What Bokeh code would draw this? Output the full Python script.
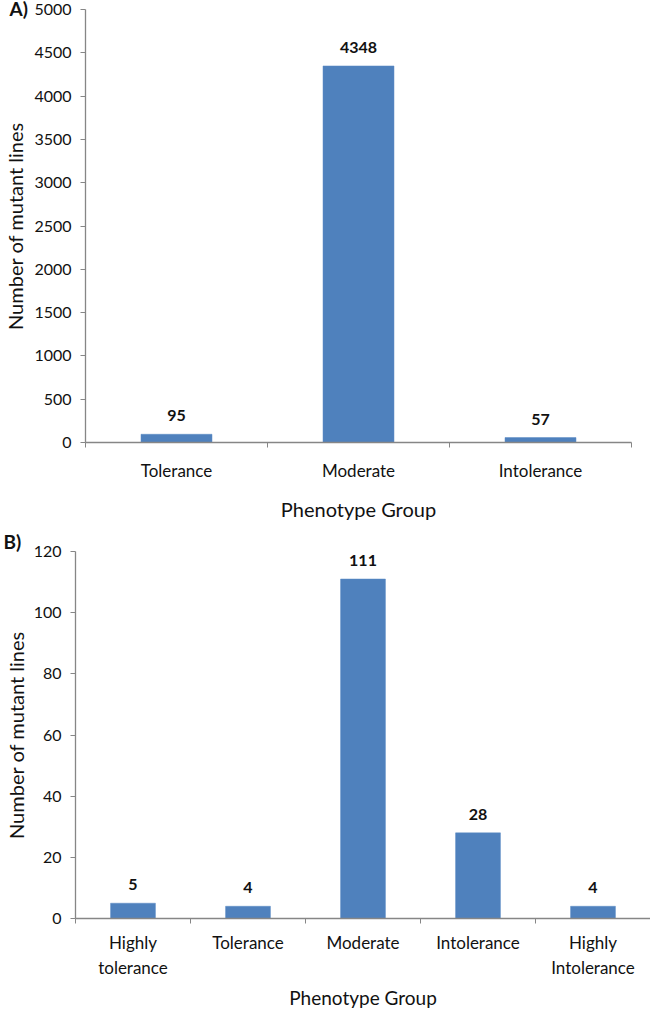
from bokeh.plotting import figure
from bokeh.models import Range1d, FixedTicker, ColumnDataSource
from bokeh.layouts import column, row
from bokeh.core.properties import value
from bokeh.embed import file_html
from bokeh.resources import INLINE

# ---- data ----
categories_a = ["Tolerance", "Moderate", "Intolerance"]
counts_a = [95, 4348, 57]
yticks_a = [0, 500, 1000, 1500, 2000, 2500, 3000, 3500, 4000, 4500, 5000]

categories_b = ["Highly\ntolerance", "Tolerance", "Moderate", "Intolerance", "Highly\nIntolerance"]
counts_b = [5, 4, 111, 28, 4]
yticks_b = [0, 20, 40, 60, 80, 100, 120]

FONT = "Lato"
BAR = "#4F81BD"
AX = "#868686"
TXT = "#111111"


def make_panel(cats, counts, yticks, ymax, height, left, right, top, bottom,
               panel_label, t_offset, t_standoff, ytitle_standoff,
               xlab_standoff, xtitle_standoff, xtitle_size):
    n = len(cats)
    p = figure(width=650, height=height, output_backend="svg", toolbar_location=None,
               x_range=Range1d(0, n), y_range=Range1d(0, ymax),
               min_border_left=left, min_border_right=right,
               min_border_top=top, min_border_bottom=bottom,
               title=panel_label)
    p.title.align = "left"
    p.title.offset = t_offset
    p.title.standoff = t_standoff
    p.title.text_font = FONT
    p.title.text_font_size = "19px"
    p.title.text_font_style = "bold"
    p.title.text_line_height = 1.45
    p.title.text_color = TXT

    p.outline_line_color = None
    p.xgrid.visible = False
    p.ygrid.visible = False
    centers = [i + 0.5 for i in range(n)]
    src = ColumnDataSource(dict(x=centers, top=counts, lab=[str(c) for c in counts]))
    p.vbar(x="x", top="top", width=0.39, bottom=0, source=src,
           fill_color=BAR, line_color="#5B8BC4", line_width=0.5)
    p.text(x="x", y="top", text="lab", source=src, text_align="center",
           text_baseline="bottom", y_offset=-13,
           text_font=value(FONT), text_font_size="16px", text_font_style="bold",
           text_color=TXT)

    # x axis: labels at centres, ticks at category boundaries
    xa = p.xaxis[0]
    xa.ticker = FixedTicker(ticks=centers, minor_ticks=list(range(n + 1)))
    xa.major_label_overrides = {c: cats[i] for i, c in enumerate(centers)}
    xa.major_tick_line_color = None
    xa.major_tick_out = 0
    xa.major_tick_in = 0
    xa.minor_tick_line_color = AX
    xa.minor_tick_out = 5
    xa.minor_tick_in = 0
    xa.axis_line_color = AX
    xa.axis_line_width = 1.3
    xa.major_label_text_font = FONT
    xa.major_label_text_font_size = "17px"
    xa.major_label_text_color = TXT
    xa.major_label_standoff = xlab_standoff
    xa.axis_label = "Phenotype Group"
    xa.axis_label_text_font = FONT
    xa.axis_label_text_font_size = xtitle_size
    xa.axis_label_text_font_style = "normal"
    xa.axis_label_text_color = TXT
    xa.axis_label_standoff = xtitle_standoff

    ya = p.yaxis[0]
    ya.ticker = FixedTicker(ticks=yticks, minor_ticks=[])
    ya.major_tick_line_color = AX
    ya.major_tick_out = 5
    ya.major_tick_in = 0
    ya.minor_tick_line_color = None
    ya.axis_line_color = AX
    ya.axis_line_width = 1.3
    ya.major_label_text_font = FONT
    ya.major_label_text_font_size = "16px"
    ya.major_label_text_color = TXT
    ya.major_label_standoff = 9
    ya.axis_label = "Number of mutant lines"
    ya.axis_label_text_font = FONT
    ya.axis_label_text_font_size = "20px"
    ya.axis_label_text_font_style = "normal"
    ya.axis_label_text_color = TXT
    ya.axis_label_standoff = ytitle_standoff
    return p


pA = make_panel(categories_a, counts_a, yticks_a, 5000, 524, 79, 19, 9, 82,
                "A)", -76, -20, 4, 12, 13, "20px")
pB = make_panel(categories_b, counts_b, yticks_b, 120, 487, 75, 0, 27, 92,
                "B)", -72, -2, 3, 8, 5, "19px")

layout = column(row(pA), row(pB), spacing=0)
open("out.html", "w").write(file_html(layout, INLINE))
